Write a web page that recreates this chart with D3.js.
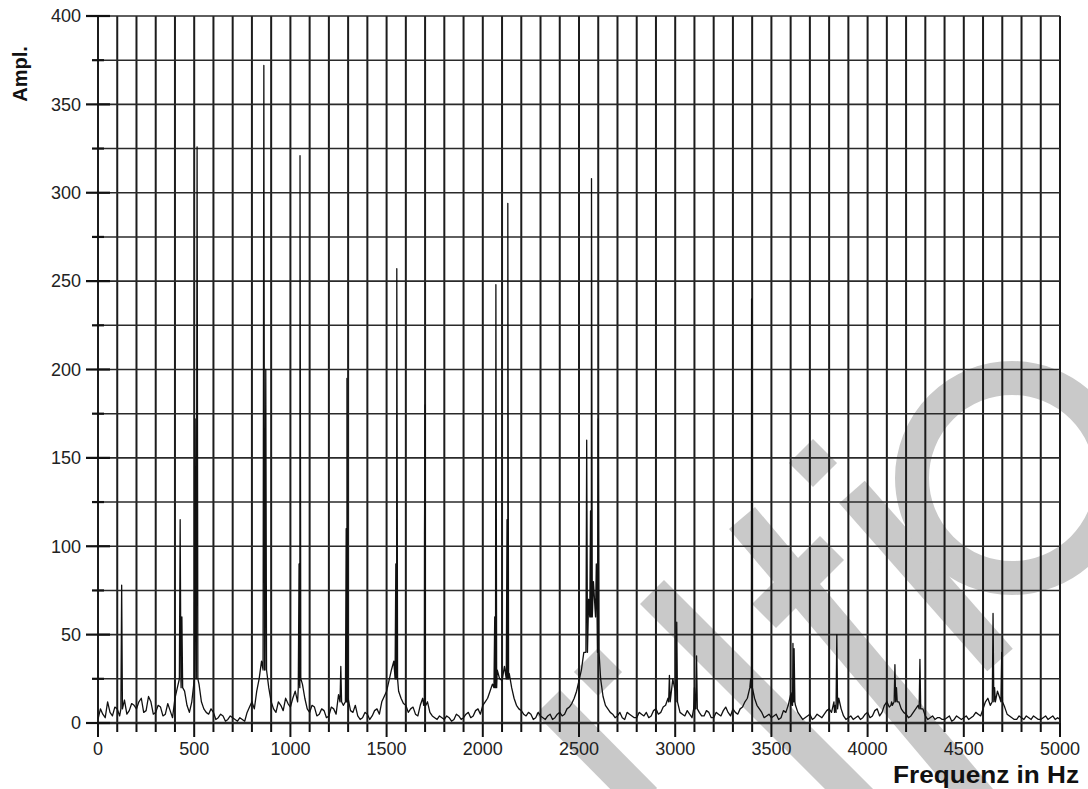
<!DOCTYPE html>
<html>
<head>
<meta charset="utf-8">
<script src="https://cdn.jsdelivr.net/npm/d3@7.9.0/dist/d3.min.js"></script>
<style>
  html, body { margin: 0; padding: 0; background: #fff; }
  svg { display: block; font-family: "Liberation Sans", Arial, sans-serif; }
</style>
</head>
<body>
<svg id="chart" width="1088" height="789"></svg>
<script>
// noise floor, one reading every 25 Hz (0 .. 5000 Hz)
const floorStep = 25;
const floorAmp = [
  2, 5, 12, 4, 8, 10, 5, 11, 8, 14, 7, 12, 6, 9, 5, 7, 14, 30, 18, 6,
  24, 22, 8, 5, 6, 3, 4, 2, 3, 1, 2, 6, 12, 18, 35, 30, 12, 6, 10, 14,
  9, 18, 25, 14, 6, 9, 5, 7, 4, 8, 16, 10, 14, 6, 4, 3, 5, 4, 8, 12,
  18, 30, 28, 14, 10, 8, 5, 10, 20, 6, 3, 4, 2, 3, 2, 4, 3, 6, 4, 8,
  10, 14, 22, 30, 24, 40, 20, 10, 7, 4, 5, 3, 4, 2, 5, 3, 6, 5, 9, 14,
  24, 40, 70, 80, 40, 15, 8, 5, 4, 3, 6, 4, 3, 5, 6, 4, 8, 6, 10, 20,
  18, 6, 4, 5, 14, 6, 4, 6, 3, 5, 7, 6, 8, 5, 9, 14, 24, 10, 6, 4,
  3, 5, 3, 6, 16, 10, 4, 3, 5, 3, 4, 5, 8, 12, 14, 4, 3, 2, 4, 3,
  6, 4, 8, 6, 12, 16, 18, 8, 5, 4, 8, 14, 4, 3, 2, 3, 2, 4, 2, 3,
  3, 2, 4, 5, 8, 14, 20, 18, 16, 5, 3, 2, 3, 4, 2, 3, 2, 4, 3, 2,
  2
];
// readings half-way between the ones above (12.5, 37.5, ... Hz)
const floorMid = [
  8, 3, 6, 9, 4, 13, 7, 10, 12, 6, 15, 5, 10, 4, 11, 3, 20, 22, 10, 12,
  30, 12, 6, 8, 2, 5, 1, 4, 2, 3, 1, 9, 8, 25, 35, 20, 8, 12, 7, 11,
  14, 12, 22, 8, 10, 4, 8, 3, 9, 5, 12, 22, 7, 10, 2, 6, 2, 7, 5, 15,
  24, 35, 18, 11, 6, 9, 4, 14, 12, 4, 2, 3, 4, 1, 5, 2, 5, 3, 7, 5,
  12, 18, 26, 25, 32, 28, 14, 8, 5, 6, 2, 6, 3, 4, 2, 5, 4, 8, 11, 18,
  30, 55, 75, 60, 25, 10, 6, 3, 6, 2, 5, 3, 6, 4, 3, 7, 5, 9, 14, 25,
  10, 5, 7, 3, 9, 4, 7, 3, 6, 4, 9, 4, 6, 8, 12, 18, 14, 8, 3, 5,
  4, 2, 7, 10, 12, 6, 2, 4, 2, 5, 3, 7, 6, 18, 8, 2, 4, 3, 2, 5,
  3, 7, 4, 10, 9, 22, 12, 6, 3, 6, 10, 8, 2, 4, 3, 2, 3, 1, 4, 2,
  4, 3, 6, 4, 12, 10, 25, 14, 9, 4, 2, 4, 2, 3, 4, 2, 3, 2, 4, 3
];

// spectral lines: frequency, peak amplitude, amplitude at the foot
const peakHz   = [123, 427, 436, 505, 515, 862, 872, 1045, 1050, 1262, 1290, 1294, 1548, 1553, 1697, 1700,
                  2062, 2068, 2126, 2130, 2540, 2560, 2565, 2590, 2600, 2970, 3008, 3100, 3111, 3392, 3397,
                  3606, 3612, 3618, 3832, 3840, 4125, 4142, 4150, 4272, 4652, 4660, 4697];
const peakAmp  = [78, 115, 60, 172, 326, 372, 200, 90, 321, 32, 110, 195, 90, 257, 107, 180,
                  60, 248, 115, 294, 160, 120, 308, 90, 172, 27, 57, 20, 38, 25, 240,
                  17, 45, 42, 10, 50, 12, 33, 20, 36, 62, 20, 40];
const peakFoot = [8, 25, 20, 25, 25, 30, 30, 20, 25, 12, 12, 12, 25, 25, 10, 10,
                  20, 20, 25, 25, 40, 60, 60, 60, 40, 12, 12, 8, 8, 20, 20,
                  10, 12, 12, 6, 8, 10, 12, 12, 8, 12, 12, 12];

const xTicks = d3.range(0, 5001, 500);
const yTicks = d3.range(0, 401, 50);

const svg = d3.select('#chart');
const x = d3.scaleLinear().domain([0, 5000]).range([98, 1060]);
const y = d3.scaleLinear().domain([0, 400]).range([723, 16]);

// watermark behind the chart (decoration from the scanned source)
const wm = svg.append('g')
  .attr('fill', 'none')
  .attr('stroke', '#c9c9c9')
  .attr('stroke-width', 34);
[
  [[548, 702], [645, 800]],
  [[652, 592], [862, 802]],
  [[742, 518], [980, 800]],
  [[764, 616], [832, 548]],
  [[852, 492], [1000, 660]]
].forEach(seg => wm.append('path').attr('d', d3.line()(seg)));
wm.append('circle').attr('cx', 1012).attr('cy', 478).attr('r', 100);
[[598, 672], [813, 463]].forEach(([cx, cy]) => {
  wm.append('rect')
    .attr('x', -17).attr('y', -17).attr('width', 34).attr('height', 34)
    .attr('fill', '#c9c9c9').attr('stroke', 'none')
    .attr('transform', `translate(${cx},${cy}) rotate(45)`);
});

// grid
const grid = svg.append('g');
grid.selectAll('.vgrid')
  .data(d3.range(0, 5001, 100))
  .join('line')
  .attr('x1', d => x(d)).attr('x2', d => x(d))
  .attr('y1', y(400)).attr('y2', y(0))
  .attr('stroke', '#1c1c1c')
  .attr('stroke-width', 2);

grid.selectAll('.hgrid')
  .data(d3.range(0, 401, 25))
  .join('line')
  .attr('x1', x(0)).attr('x2', x(5000))
  .attr('y1', d => y(d)).attr('y2', d => y(d))
  .attr('stroke', '#2a2a2a')
  .attr('stroke-width', d => d === 0 ? 2.6 : 1.6);

// tick marks on the left
grid.selectAll('.ytick')
  .data(d3.range(0, 401, 25))
  .join('line')
  .attr('x1', d => d % 50 === 0 ? 86 : 92)
  .attr('x2', d => d % 50 === 0 ? 110 : 104)
  .attr('y1', d => y(d)).attr('y2', d => y(d))
  .attr('stroke', '#111')
  .attr('stroke-width', 2.2);

// tick marks below
grid.selectAll('.xtick')
  .data(d3.range(0, 5001, 100))
  .join('line')
  .attr('x1', d => x(d)).attr('x2', d => x(d))
  .attr('y1', y(0))
  .attr('y2', d => y(0) + (d % 500 === 0 ? 14 : 9))
  .attr('stroke', '#111')
  .attr('stroke-width', 2);

// spectrum: noise floor readings plus the needle of each spectral line
let points = floorAmp.map((a, i) => [i * floorStep, a])
  .concat(floorMid.map((a, i) => [(i + 0.5) * floorStep, a]))
  .filter(([hz]) => !peakHz.some(p => Math.abs(p - hz) <= 5));
peakHz.forEach((hz, i) => {
  points.push([hz - 4, peakFoot[i]]);
  points.push([hz, peakAmp[i]]);
  points.push([hz + 4, peakFoot[i]]);
});
points.sort((a, b) => a[0] - b[0]);

svg.append('path')
  .datum(points)
  .attr('fill', 'none')
  .attr('stroke', '#111')
  .attr('stroke-width', 1.3)
  .attr('stroke-linejoin', 'round')
  .attr('d', d3.line().x(d => x(d[0])).y(d => y(d[1])));

// labels
svg.append('g')
  .selectAll('text')
  .data(yTicks)
  .join('text')
  .attr('x', 81)
  .attr('y', d => y(d))
  .attr('dy', '0.35em')
  .attr('text-anchor', 'end')
  .attr('font-size', 18)
  .attr('fill', '#222')
  .text(d => d);

svg.append('g')
  .selectAll('text')
  .data(xTicks)
  .join('text')
  .attr('x', d => x(d))
  .attr('y', 749)
  .attr('dy', '0.35em')
  .attr('text-anchor', 'middle')
  .attr('font-size', 18)
  .attr('fill', '#222')
  .text(d => d);

svg.append('text')
  .attr('transform', 'translate(27,74) rotate(-90)')
  .attr('text-anchor', 'middle')
  .attr('font-size', 20)
  .attr('font-weight', 'bold')
  .attr('fill', '#111')
  .text('Ampl.');

svg.append('text')
  .attr('x', 893)
  .attr('y', 783)
  .attr('font-size', 24)
  .attr('font-weight', 'bold')
  .attr('fill', '#111')
  .attr('textLength', 186)
  .attr('lengthAdjust', 'spacingAndGlyphs')
  .text('Frequenz in Hz');
</script>
</body>
</html>
